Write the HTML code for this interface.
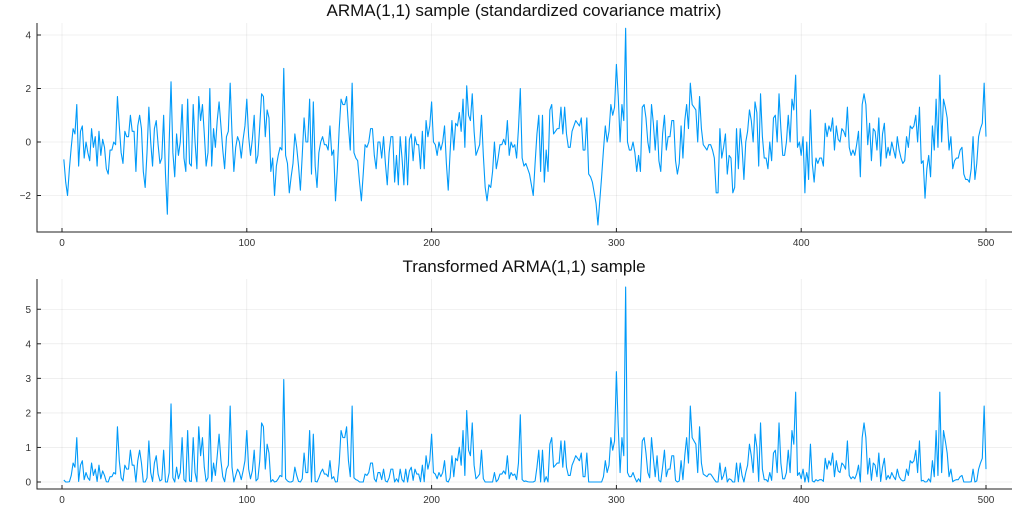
<!DOCTYPE html>
<html><head><meta charset="utf-8"><style>
body{margin:0;background:#fff;font-family:"Liberation Sans",sans-serif}
svg text{font-family:"Liberation Sans",sans-serif}
</style></head><body>
<svg id="c" width="1024" height="512" viewBox="0 0 1024 512"></svg>
<script>
const seriesTop = [
-0.65,-1.5,-2.0,-1.0,-0.2,0.5,0.3,1.4,-0.9,0.4,0.6,-0.6,0.0,-0.4,-0.7,0.5,-0.2,0.2,-0.9,0.4,
-0.5,0.1,-0.2,-1.0,-1.2,-0.3,-0.3,0.0,-0.1,1.7,0.6,-0.4,-0.8,0.4,0.2,0.2,1.0,0.4,0.4,-1.1,
0.6,1.0,0.5,-1.1,-1.7,-0.4,1.3,0.0,-0.9,0.5,0.8,-0.1,-0.8,-0.6,1.0,-1.2,-2.7,0.0,2.25,-0.4,
-1.3,0.3,-0.5,0.0,1.4,-0.6,-1.1,1.6,-0.8,-0.9,1.4,0.0,-1.0,1.7,0.8,1.4,0.3,-0.9,-0.4,2.0,
-0.9,0.5,-0.2,0.8,1.5,0.6,-0.3,-1.0,0.2,0.4,2.2,0.3,-1.1,-0.2,0.2,0.0,-0.6,0.1,0.6,1.6,
0.2,-0.5,0.1,1.0,-0.8,-0.5,0.6,1.8,1.7,0.2,1.2,0.9,-1.1,-0.6,-2.0,-0.9,-0.5,-0.2,-0.3,2.75,
-0.5,-0.8,-1.9,-1.3,-0.8,0.3,-0.2,-0.9,-1.8,-0.5,0.9,0.0,0.0,1.6,-1.2,1.5,-0.9,-1.7,-0.4,0.0,
0.2,-0.1,-0.1,-0.3,0.6,-0.5,-0.3,-2.2,-1.0,0.5,1.6,1.4,1.4,1.7,0.6,-0.3,2.2,-0.4,-0.6,-0.7,
-1.5,-2.2,-1.2,-0.1,-0.2,0.0,0.5,0.5,-0.5,-1.0,0.0,0.0,-0.6,0.2,-0.8,-1.6,-0.4,0.2,0.2,-1.5,
-0.5,-1.6,0.2,-0.6,-1.6,0.2,-1.6,0.1,0.3,-0.7,0.2,-0.1,-0.1,-1.0,0.4,-1.0,0.8,0.2,0.6,1.5,
0.0,-0.1,-0.5,0.0,-0.3,0.0,0.6,-0.8,-1.8,-0.4,0.8,-0.3,0.7,0.6,1.1,0.4,1.6,-0.2,2.1,1.0,
0.8,1.8,0.4,-0.5,-0.3,-0.1,1.0,-0.5,-1.7,-2.2,-1.6,-1.7,-1.1,0.0,-1.0,-0.6,-0.1,-0.1,0.1,-0.1,
0.8,-0.5,0.0,-0.2,-0.1,-0.6,0.5,2.0,-0.6,-0.9,-0.8,-1.0,-1.2,-1.6,-2.0,-0.8,0.3,1.0,-1.1,1.0,
-1.5,-0.3,-1.1,1.2,1.4,0.3,0.4,0.5,0.5,1.3,0.3,1.3,0.3,-0.2,-0.2,0.4,0.6,0.8,0.7,0.6,
0.9,-0.3,-0.3,0.9,-1.2,-1.3,-1.5,-1.9,-2.3,-3.1,-2.2,-1.3,-0.3,0.6,0.0,0.4,1.4,1.0,1.3,2.9,
1.7,0.0,1.4,0.8,4.25,0.0,-0.3,-0.3,0.0,-0.4,-1.1,-0.5,-1.1,1.3,1.4,0.9,0.0,-0.4,1.4,0.7,
-0.3,0.8,-0.7,-1.1,0.3,1.0,-0.3,0.2,0.2,0.8,0.8,-0.7,-1.2,-0.8,0.6,-0.6,0.8,1.4,0.5,2.2,
1.4,1.3,1.2,0.0,1.7,0.5,-0.1,-0.2,-0.3,-0.1,-0.1,-0.3,-0.6,-1.9,-1.9,0.5,-0.6,-0.2,0.3,-1.2,
-0.5,-0.6,-1.9,-1.7,0.5,-1.0,0.5,-0.2,-1.4,0.0,0.4,1.2,0.8,0.0,1.5,1.1,-0.9,1.8,0.2,-0.6,
-0.6,-1.0,0.0,-0.7,0.9,1.0,0.0,1.8,0.5,-0.5,-0.5,0.0,1.0,0.0,1.6,1.2,2.5,-0.2,0.0,-0.5,
0.2,-1.9,0.0,-1.4,1.2,-0.8,-1.5,-0.6,-0.8,-0.6,-0.6,-0.9,0.7,0.2,0.6,0.4,0.9,-0.3,0.6,0.1,
0.0,0.5,0.4,0.2,1.3,-0.2,-0.5,-0.3,-0.5,-0.1,0.4,-1.3,1.4,1.8,1.4,-0.1,0.7,-0.7,0.5,0.4,
-0.3,0.9,-0.9,0.3,0.7,-0.6,-0.2,-0.5,0.0,-0.3,-0.6,0.2,-0.3,-0.6,-0.8,-0.7,0.2,-0.2,0.6,0.5,
0.6,1.0,0.0,1.3,-0.8,-0.7,-2.1,-1.0,-0.5,-1.3,0.6,-0.3,1.6,-0.2,2.5,0.0,1.6,1.3,0.9,-0.3,
0.2,-1.0,-0.7,-0.6,-0.6,-0.3,-0.2,-1.2,-1.4,-1.4,-1.5,-1.0,0.2,-1.4,-0.8,0.2,0.5,0.7,2.2,0.2
];
// transformed series derived from the sample (estimated mapping)
const seriesBottom = seriesTop.map(v => 0.19 * Math.pow(Math.max(0, v + 1.2), 2));
const xTicks = [0,100,200,300,400,500];
const yTicksTop = [-2,0,2,4];
const yTicksBottom = [0,1,2,3,4,5];

const NS='http://www.w3.org/2000/svg';
const svg=document.getElementById('c');
function el(tag,attrs,parent){const e=document.createElementNS(NS,tag);for(const k in attrs)e.setAttribute(k,attrs[k]);(parent||svg).appendChild(e);return e;}
const xScale = t => 62 + t*1.848;

function panel(opts){
  const g=el('g',{});
  
  
  const y=opts.y;
  // grid
  xTicks.forEach(t=>{const l=el('line',{x1:xScale(t),x2:xScale(t),y1:opts.top,y2:opts.bottom,stroke:'#000','stroke-opacity':0.1,'stroke-width':0.6},g);
    
    });
  opts.yTicks.forEach(v=>{const l=el('line',{x1:37,x2:1012,y1:y(v),y2:y(v),stroke:'#000','stroke-opacity':0.1,'stroke-width':0.6},g);
    
    });
  // axes
  const ax=el('path',{d:`M37 ${opts.top} V${opts.bottom} H1012`,fill:'none',stroke:'#222','stroke-width':1},g);
  
  
  xTicks.forEach(t=>{el('line',{x1:xScale(t),x2:xScale(t),y1:opts.bottom,y2:opts.bottom-4,stroke:'#222','stroke-width':1},g);
    const tx=el('text',{x:xScale(t),y:opts.bottom+14,'font-size':10,'text-anchor':'middle',fill:'#333'},g);tx.textContent=t;
    
    });
  opts.yTicks.forEach(v=>{el('line',{x1:37,x2:41,y1:y(v),y2:y(v),stroke:'#222','stroke-width':1},g);
    const tx=el('text',{x:31,y:y(v)+3.5,'font-size':10,'text-anchor':'end',fill:'#333'},g);tx.textContent=v<0?'\u2212'+(-v):v;
    
    });
  // series
  const d=opts.data.map((v,i)=>(i?'L':'M')+xScale(i+1).toFixed(2)+' '+y(v).toFixed(2)).join('');
  const p=el('path',{d:d,fill:'none',stroke:'#009af9','stroke-width':1.1,'stroke-linejoin':'round'},g);
  
  
  const title=el('text',{x:524,y:opts.titleY,'font-size':17,'text-anchor':'middle',fill:'#111'},g);
  title.textContent=opts.title;
  
  
}
panel({name:'top-panel',top:23,bottom:232,y:v=>142-v*26.75,yTicks:yTicksTop,data:seriesTop,title:'ARMA(1,1) sample (standardized covariance matrix)',titleY:16});
panel({name:'bottom-panel',top:279,bottom:489,y:v=>482-v*34.55,yTicks:yTicksBottom,data:seriesBottom,title:'Transformed ARMA(1,1) sample',titleY:272});
</script>
</body></html>
